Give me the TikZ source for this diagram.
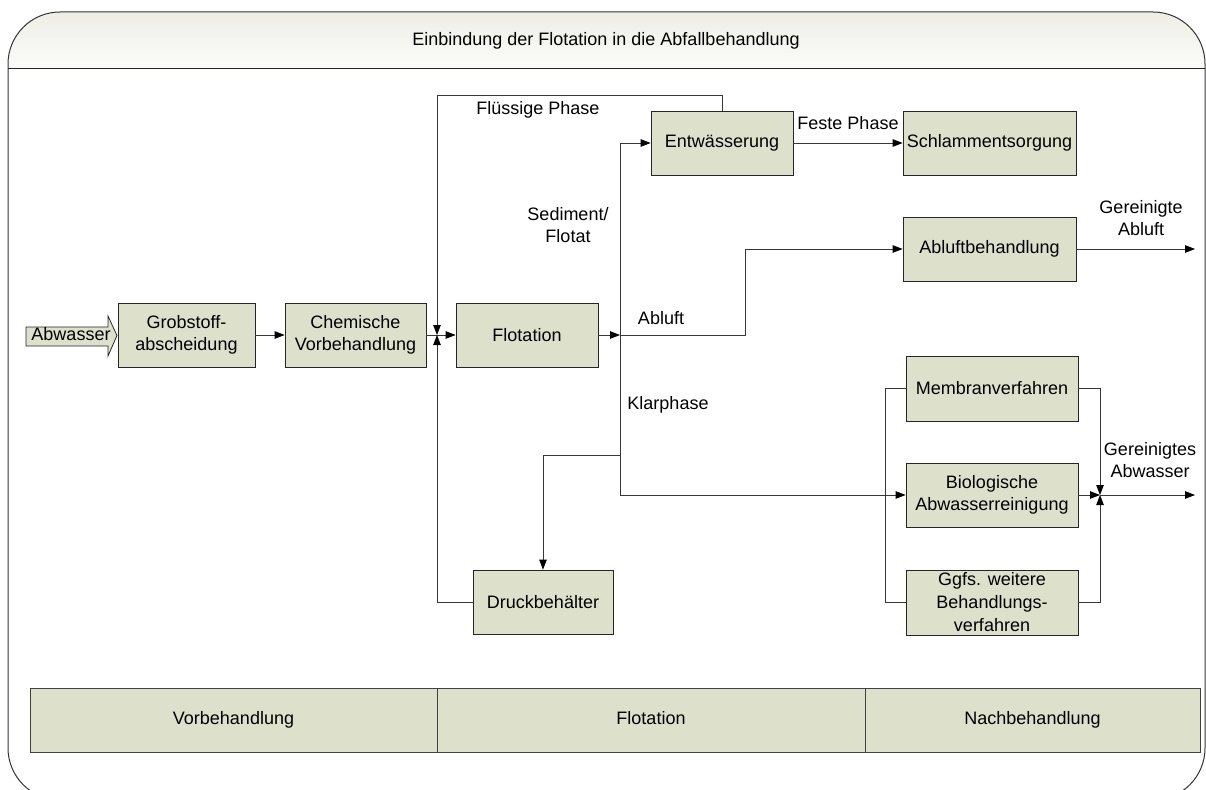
\documentclass[tikz,border=0pt]{standalone}
\usepackage{fontspec}
\setmainfont{Liberation Sans}
\usetikzlibrary{arrows.meta,calc}
\definecolor{boxfill}{RGB}{221,224,203}
\definecolor{linegray}{RGB}{55,55,55}
\definecolor{headtop}{RGB}{238,238,230}
\definecolor{headbottom}{RGB}{251,251,249}
\begin{document}
\begin{tikzpicture}[x=1pt,y=-1pt,
  font=\fontsize{18}{21.5}\selectfont,
  procbox/.style={draw=black!85, fill=boxfill, line width=0.8pt,
    minimum height=64pt, inner sep=0pt, align=center},
  band/.style={draw=black!75, fill=boxfill, line width=0.8pt,
    minimum height=64pt, inner sep=0pt, text height=13pt, text depth=4pt},
  wire/.style={draw=linegray, line width=0.8pt},
  conn/.style={wire, -{Triangle[length=10pt,width=7.5pt,color=black,fill=black]}},
  lbl/.style={inner sep=0pt, align=center}]

\useasboundingbox (0,0) rectangle (1206,789);

% outer frame with shaded header strip
\begin{scope}
  \clip[rounded corners=52pt] (8,12) rectangle (1205,800);
  \shade[top color=headtop, bottom color=headbottom] (8,12) rectangle (1205,68);
\end{scope}
\draw[black!80, line width=1pt, rounded corners=52pt] (8,12) rectangle (1205,800);
\draw[black!85, line width=0.9pt] (8,68) -- (1205,68);
\node[lbl] (title) at (606,41) {Einbindung der Flotation in die Abfallbehandlung};

% inflow arrow
\draw[draw=black!85, fill=boxfill, line width=0.8pt]
  (26,327) -- (108,327) -- (108,316) -- (117,335.5) -- (108,356) -- (108,346) -- (26,346) -- cycle;
\node[lbl, text height=13pt, text depth=4pt] (abw) at (71,336) {Abwasser};

% process boxes
\node[procbox, minimum width=137pt] (grob)  at (186.5,335) {Grobstoff-\\abscheidung};
\node[procbox, minimum width=141pt] (chem)  at (355.5,335) {Chemische\\Vorbehandlung};
\node[procbox, minimum width=142pt] (flot)  at (527,335)   {Flotation};
\node[procbox, minimum width=142pt] (entw)  at (722,143)   {Entwässerung};
\node[procbox, minimum width=173pt] (schl)  at (989.5,143) {Schlammentsorgung};
\node[procbox, minimum width=173pt] (abl)   at (989.5,249) {Abluftbehandlung};
\node[procbox, minimum width=172pt, minimum height=65pt] (memb) at (992,388.5) {Membranverfahren};
\node[procbox, minimum width=172pt] (bio)   at (992,495)   {Biologische\\Abwasserreinigung};
\node[procbox, minimum width=172pt, minimum height=65pt,
      font=\fontsize{18}{23}\selectfont] (ggfs) at (992,602.5) {Ggfs. weitere\\Behandlungs-\\verfahren};
\node[procbox, minimum width=140pt] (druck) at (543,602)   {Druckbehälter};

% junction points
\coordinate (j1) at (437,335);
\coordinate (j2) at (620,335);
\coordinate (j3) at (620,455);
\coordinate (j4) at (1100,495);
\coordinate (out1) at (1195,249);
\coordinate (out2) at (1195,495);

% connectors
\draw[conn] (grob.east) -- (chem.west);
\draw[conn] (chem.east) -- (flot.west);
\draw[conn] (entw.north) -- ++(0,-15) -| (j1);
\draw[conn] (druck.west) -| (j1);
\draw[conn] (flot.east) -- (j2);
\draw[conn] (j2) |- (entw.west);
\draw[conn] (j2) -- ++(125,0) |- (abl.west);
\draw[conn] (j2) |- (bio.west);
\draw[conn] (j3) -| (druck.north);
\draw[conn] (entw.east) -- (schl.west);
\draw[conn] (abl.east) -- (out1);
\draw[wire] (memb.west) -- ++(-20,0) |- (ggfs.west);
\draw[conn] (memb.east) -| (j4);
\draw[conn] (ggfs.east) -| (j4);
\draw[conn] (bio.east) -- (j4);
\draw[conn] (j4) -- (out2);

% connector labels
\node[lbl] (lfl)  at (538,110)  {Flüssige Phase};
\node[lbl] (lsed) at (568,225)  {Sediment/\\Flotat};
\node[lbl] (lfe)  at (848,123)  {Feste Phase};
\node[lbl] (lab)  at (661,318)  {Abluft};
\node[lbl] (lkl)  at (668,405)  {Klarphase};
\node[lbl] (lga)  at (1141,218) {Gereinigte\\Abluft};
\node[lbl] (lgw)  at (1150,460) {Gereinigtes\\Abwasser};

% stage bands
\node[band, minimum width=407pt] (vb) at (233.5,720) {Vorbehandlung};
\node[band, minimum width=428pt] (fb) at (651,720)   {Flotation};
\node[band, minimum width=335pt] (nb) at (1032.5,720) {Nachbehandlung};
\end{tikzpicture}
\end{document}
